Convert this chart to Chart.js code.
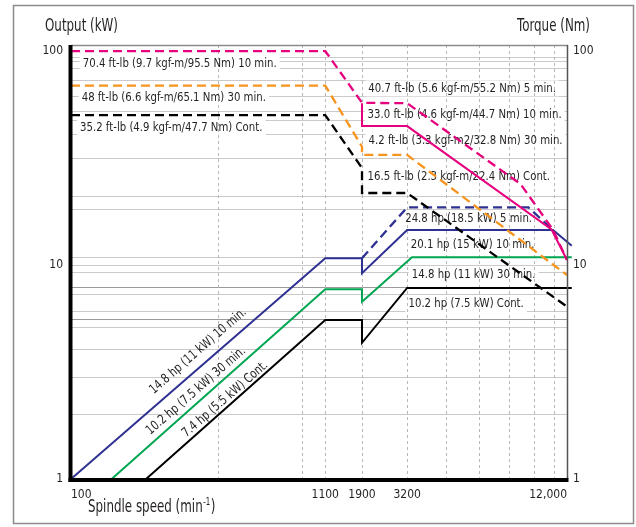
<!DOCTYPE html>
<html><head><meta charset="utf-8">
<script src="https://cdn.jsdelivr.net/npm/chart.js@4.4.1/dist/chart.umd.min.js"></script>
<style>html,body{margin:0;padding:0;background:#fff;overflow:hidden}canvas{display:block}</style>
</head><body><canvas id="c" width="636" height="527"></canvas>
<script>
// ---------- data ----------
const SPEED_TICKS = [100, 1100, 1900, 3200, 12000];
const SPEED_TICK_LABELS = ['100', '1100', '1900', '3200', '12,000'];
const SPEED_GRID = [400, 880, 1100, 1900, 3200, 4400, 5800, 7400, 9100, 10800];
const VALUE_TICKS = [1, 10, 100];
const VALUE_GRID = [2.01, 2.97, 4.04, 5.08, 5.59, 6.05, 7.32, 7.83, 9.18, 10, 10.9, 18.1, 20.9, 31.5, 40.8, 47.6, 52, 61.2, 73.2, 83, 89.8, 93];
const VALUE_GRID_DARK = [5.59, 7.83];

// torque curves (Nm)
const pinkDashSpeed = [100, 1100, 1900, 3200, 8175, 10690, 12000];
const pinkDashValue = [100, 100, 57.3, 57, 23.9, 14.6, 10.55];
const pinkSolidSpeed = [1900, 1900, 3200, 10560, 12000];
const pinkSolidValue = [57, 44.6, 44.6, 14.65, 10.55];
const orangeSpeed = [100, 1100, 1900, 1900, 3200, 12000];
const orangeValue = [68.9, 68.9, 35.7, 32.7, 32.7, 8.98];
const blackDashSpeed = [100, 1100, 1900, 1900, 3200, 12000];
const blackDashValue = [50.2, 50.2, 28.4, 21.7, 21.7, 6.39];
// power curves (kW)
const blueDashSpeed = [1900, 3200, 8720, 10690];
const blueDashValue = [10.75, 18.6, 18.6, 14.56];
const blueSpeed = [100, 1100, 1900, 1900, 3200, 10690, 12480];
const blueValue = [1, 10.75, 10.75, 9.15, 14.56, 14.56, 12.3];
const greenSpeed = [146.7, 1100, 1900, 1900, 3330, 12480];
const greenValue = [1, 7.7, 7.7, 6.74, 10.87, 10.87];
const blackSpeed = [203, 1100, 1900, 1900, 3200, 12480];
const blackValue = [1, 5.53, 5.53, 4.33, 7.81, 7.81];

// annotation texts and their anchors (speed, value)
const NOTE_TEXTS = [
  '70.4 ft-lb (9.7 kgf-m/95.5 Nm) 10 min.',
  '48 ft-lb (6.6 kgf-m/65.1 Nm) 30 min.',
  '35.2 ft-lb (4.9 kgf-m/47.7 Nm) Cont.',
  '40.7 ft-lb (5.6 kgf-m/55.2 Nm) 5 min.',
  '33.0 ft-lb (4.6 kgf-m/44.7 Nm) 10 min.',
  '4.2 ft-lb (3.3 kgf-m2/32.8 Nm) 30 min.',
  '16.5 ft-lb (2.3 kgf-m/22.4 Nm) Cont.',
  '24.8 hp (18.5 kW) 5 min.',
  '20.1 hp (15 kW) 10 min.',
  '14.8 hp (11 kW) 30 min.',
  '10.2 hp (7.5 kW) Cont.'
];
const NOTE_SPEEDS = [111.7, 110.6, 108.9, 2045, 2027, 2050, 2027, 3128, 3299, 3326, 3235];
const NOTE_VALUES = [87.0, 60.5, 43.8, 66.9, 50.2, 37.96, 25.9, 16.4, 12.5, 9.05, 6.57];
const SLOPE_TEXTS = ['14.8 hp (11 kW) 10 min.', '10.2 hp (7.5 kW) 30 min.', '7.4 hp (5.5 kW) Cont.'];
const SLOPE_SPEEDS = [331.7, 325, 428];
const SLOPE_VALUES = [3.96, 2.58, 2.36];

// ---------- fonts ----------
function hasFont(name){
  const c=document.createElement('canvas').getContext('2d');
  const s='abcdefghijklmnopqrstuvwxyz0123456789ABCDEFG';
  let r=false;
  ['monospace','serif'].forEach(f=>{
    c.font='40px '+f; const a=c.measureText(s).width;
    c.font='40px "'+name+'", '+f; const b=c.measureText(s).width;
    if(Math.abs(a-b)>0.5) r=true;
  });
  return r;
}
let FAMILY='Liberation Sans';
for (const n of ['Liberation Sans Narrow','DejaVu Sans Condensed','Arial Narrow']) { if (hasFont(n)) { FAMILY=n; break; } }
const fontStr = s => s+'px "'+FAMILY+'", "Liberation Sans", sans-serif';
let SQ=1, SQT=1;
(function(){
  const c=document.createElement('canvas').getContext('2d');
  c.font=fontStr(13);
  SQ=Math.min(1, 194/c.measureText('70.4 ft-lb (9.7 kgf-m/95.5 Nm) 10 min.').width);
  c.font=fontStr(17);
  SQT=Math.min(1, 73/c.measureText('Output (kW)').width);
})();
const TEXT = '#231f20';

// ---------- segmented log axis ----------
const AXIS_BREAKS = [100, 1100, 1900, 3200, 12000];
const AXIS_FRACS = [0, 0.5126, 0.5867, 0.6777, 1];
function rpmToFrac(v){
  const L=Math.log10; let i=0;
  while (i < AXIS_BREAKS.length-2 && v > AXIS_BREAKS[i+1]) i++;
  const a=AXIS_BREAKS[i], b=AXIS_BREAKS[i+1];
  const t=(L(v)-L(a))/(L(b)-L(a));
  return AXIS_FRACS[i]+t*(AXIS_FRACS[i+1]-AXIS_FRACS[i]);
}
function fracToRpm(f){
  let i=0;
  while (i < AXIS_FRACS.length-2 && f > AXIS_FRACS[i+1]) i++;
  const t=(f-AXIS_FRACS[i])/(AXIS_FRACS[i+1]-AXIS_FRACS[i]);
  const L=Math.log10;
  return Math.pow(10, L(AXIS_BREAKS[i])+t*(L(AXIS_BREAKS[i+1])-L(AXIS_BREAKS[i])));
}
class SegmentedLogScale extends Chart.LinearScale {
  getPixelForValue(v){ if (v===null||v===undefined||isNaN(v)) return NaN; return this.getPixelForDecimal(rpmToFrac(v)); }
  getValueForPixel(p){ return fracToRpm(this.getDecimalForPixel(p)); }
}
SegmentedLogScale.id='segmentedLog';
SegmentedLogScale.defaults={};
Chart.register(SegmentedLogScale);

// ---------- datasets ----------
const pts=(xs,ys)=>xs.map((x,i)=>({x, y: ys[i]}));
const CLIP={left:2, top:2, right:6, bottom:2};
function ds(xs, ys, color, dashed){
  return { data: pts(xs,ys), borderColor: color, borderWidth: dashed?2.3:2, borderDash: dashed?[9,5]:[], fill:false, pointRadius:0, tension:0, clip: CLIP };
}
const datasets=[
  ds(blackDashSpeed, blackDashValue, '#000000', true),
  ds(orangeSpeed, orangeValue, '#f7941d', true),
  ds(pinkDashSpeed, pinkDashValue, '#e6007e', true),
  ds(pinkSolidSpeed, pinkSolidValue, '#e6007e', false),
  ds(blackSpeed, blackValue, '#000000', false),
  ds(greenSpeed, greenValue, '#00a651', false),
  ds(blueDashSpeed, blueDashValue, '#2e3192', true),
  ds(blueSpeed, blueValue, '#2e3192', false)
];

function drawText(c, t, x, y, align, sq){
  c.save(); c.translate(x,y); c.scale(sq||SQ,1); c.textAlign=align||'left'; c.fillText(t,0,0); c.restore();
}

const decor={
  id:'decor',
  beforeDraw(chart){
    const c=chart.ctx; c.save();
    c.fillStyle='#fff'; c.fillRect(0,0,chart.width,chart.height);
    c.strokeStyle='#8c8c8c'; c.lineWidth=1.5; c.strokeRect(13.5,5.5,620,518);
    c.restore();
  },
  beforeDatasetsDraw(chart){
    const c=chart.ctx, x=chart.scales.x, y=chart.scales.y, a=chart.chartArea;
    c.save();
    c.font=fontStr(13);
    const items=NOTE_TEXTS.map((t,i)=>({t, px:x.getPixelForValue(NOTE_SPEEDS[i]), py:y.getPixelForValue(NOTE_VALUES[i]), w:c.measureText(t).width*SQ}));
    c.fillStyle='#fff';
    items.forEach(it=>c.fillRect(it.px-3, it.py-8, it.w+6, 16));
    c.strokeStyle='#b8b8b8'; c.lineWidth=1; c.setLineDash([3,3]);
    SPEED_GRID.forEach(v=>{ const px=Math.round(x.getPixelForValue(v))+0.5; c.beginPath(); c.moveTo(px,a.top); c.lineTo(px,a.bottom); c.stroke(); });
    c.setLineDash([]);
    c.fillStyle=TEXT; c.textBaseline='middle';
    items.forEach(it=>drawText(c, it.t, it.px, it.py, 'left'));
    SLOPE_TEXTS.forEach((t,i)=>{
      const px=x.getPixelForValue(SLOPE_SPEEDS[i]), py=y.getPixelForValue(SLOPE_VALUES[i]);
      c.save(); c.translate(px,py); c.rotate(-41*Math.PI/180); c.scale(SQ,1); c.textAlign='center'; c.fillText(t,0,0); c.restore();
    });
    c.restore();
  },
  afterDatasetsDraw(chart){
    const c=chart.ctx, a=chart.chartArea;
    c.save();
    c.strokeStyle='#8c8c8c'; c.lineWidth=1.5;
    c.beginPath(); c.moveTo(a.left, a.top+0.5); c.lineTo(a.right+1, a.top+0.5); c.stroke();
    c.strokeStyle='#555'; c.lineWidth=1.5;
    c.beginPath(); c.moveTo(a.right+0.5, a.top); c.lineTo(a.right+0.5, a.bottom); c.stroke();
    c.strokeStyle='#000'; c.lineWidth=4;
    c.beginPath(); c.moveTo(a.left-0.5, a.top); c.lineTo(a.left-0.5, a.bottom+3); c.stroke();
    c.beginPath(); c.moveTo(a.left-2.5, a.bottom+1); c.lineTo(a.right+1.5, a.bottom+1); c.stroke();
    c.fillStyle=TEXT; c.textBaseline='middle'; c.font=fontStr(17);
    drawText(c, 'Output (kW)', 45, 27, 'left', SQT);
    drawText(c, 'Torque (Nm)', 590, 27, 'right', SQT);
    const base='Spindle speed (min';
    drawText(c, base, 88, 508, 'left', SQT);
    let w=c.measureText(base).width*SQT;
    c.font=fontStr(10);
    drawText(c, '-1', 88+w+0.5, 502, 'left', SQT);
    const w2=c.measureText('-1').width*SQT;
    c.font=fontStr(17);
    drawText(c, ')', 88+w+w2+1, 508, 'left', SQT);
    c.restore();
  }
};

const tickFont={family:FAMILY, size:12};
const yTicksAll=[1].concat(VALUE_GRID, [100]);
new Chart(document.getElementById('c'), {
  type:'line',
  data:{ datasets },
  options:{
    responsive:false, animation:false, events:[],
    layout:{ padding:{ top:45, left:0, right:0, bottom:0 } },
    plugins:{ legend:{display:false}, tooltip:{enabled:false}, title:{display:false} },
    scales:{
      x:{
        type:'segmentedLog', min:100, max:12000,
        afterFit(s){ s.height=48; },
        afterBuildTicks(s){ s.ticks=SPEED_TICKS.map(v=>({value:v})); },
        grid:{display:false, drawTicks:false},
        border:{display:false},
        ticks:{ autoSkip:false, maxRotation:0, minRotation:0, align:'inner', padding:9, font:tickFont, color:TEXT,
          callback:(v)=>{ const i=SPEED_TICKS.indexOf(v); return i>=0?SPEED_TICK_LABELS[i]:''; } }
      },
      y:{
        type:'logarithmic', position:'left', min:1, max:106.7,
        afterFit(s){ s.width=71; },
        afterBuildTicks(s){ s.ticks=yTicksAll.map(v=>({value:v})); },
        grid:{ drawTicks:false, tickLength:0, lineWidth:1,
          color:(ctx)=>{ const v=ctx.tick&&ctx.tick.value; if(v===1||v===100) return 'rgba(0,0,0,0)'; return VALUE_GRID_DARK.includes(v)?'#9a9a9a':'#cacaca'; } },
        border:{display:false},
        ticks:{ autoSkip:false, padding:8, font:tickFont, color:TEXT, callback:(v)=>VALUE_TICKS.includes(v)?String(v):'' }
      },
      y2:{
        type:'logarithmic', position:'right', min:1, max:106.7,
        afterFit(s){ s.width=69; },
        afterBuildTicks(s){ s.ticks=VALUE_TICKS.map(v=>({value:v})); },
        grid:{display:false, drawTicks:false, tickLength:0},
        border:{display:false},
        ticks:{ autoSkip:false, padding:6, font:tickFont, color:TEXT, callback:(v)=>String(v) }
      }
    }
  },
  plugins:[decor]
});
</script></body></html>
